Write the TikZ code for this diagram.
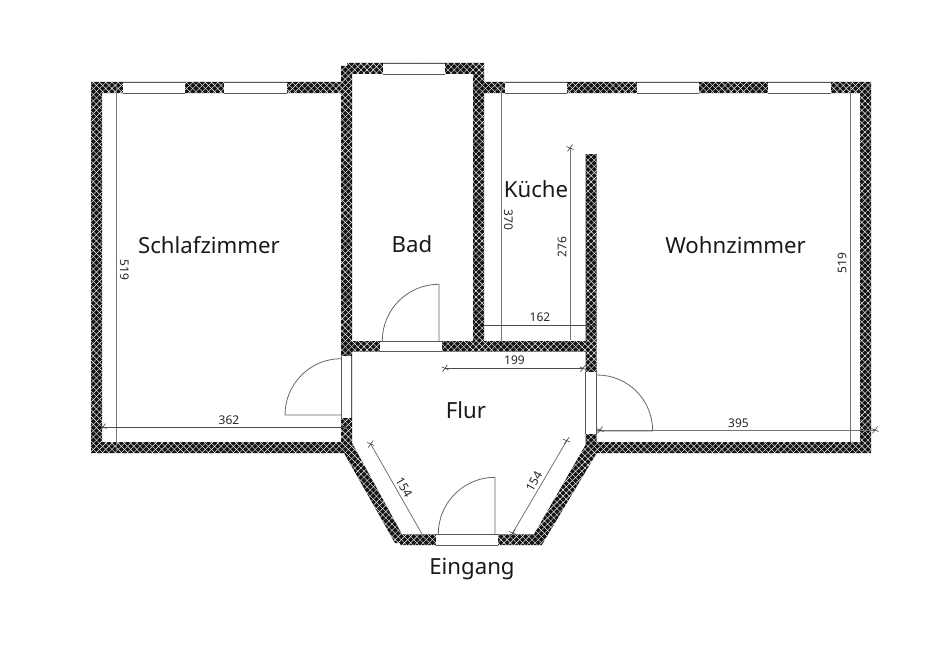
\documentclass[tikz,border=0pt]{standalone}
\usepackage{fontspec}
\setmainfont{Noto Sans}
\usetikzlibrary{patterns.meta}
\tikzset{
  wallfill/.style={fill=black!92,even odd rule},
  wallhatch/.style={even odd rule,pattern={Lines[angle=45,distance=4.4pt,line width=0.42pt]},pattern color=white},
  wallhatchb/.style={even odd rule,pattern={Lines[angle=-45,distance=4.4pt,line width=0.42pt]},pattern color=white},
  opening/.style={fill=white,draw=none},
  openline/.style={draw=black!65,line width=0.8pt},
  doorline/.style={draw=black!60,line width=0.8pt},
  dimline/.style={draw=black!55,line width=0.8pt},
  dimdark/.style={draw=black!70,line width=0.7pt},
  ticksty/.style={draw=black!75,line width=0.6pt},
  room/.style={font=\fontsize{22.2}{25}\selectfont,inner sep=0pt,text=black!90},
  dimlabel/.style={font=\fontsize{12}{14}\selectfont,inner sep=0pt,text=black!85}
}
\newcommand{\wallshape}[1]{%
  \fill[wallfill] #1;
  \fill[wallhatch] #1;
  \fill[wallhatchb] #1;
}
\newcommand{\dimtick}[2]{%
  \draw[ticksty] (#1-2.5,#2+3.5) -- (#1+2.5,#2-3.5);
  \draw[ticksty] (#1-3.5,#2-1.5) -- (#1+3.5,#2+1.5);
}
\begin{document}
\begin{tikzpicture}[x=1pt,y=-1pt]
\useasboundingbox (0,0) rectangle (948,661);
% walls
\wallshape{(91,82) -- (341,82) -- (341,66) -- (347,66) -- (347,63) -- (484,63) -- (484,82) -- (871,82) -- (871,453) -- (596.7,453) -- (541.7,545) -- (400,545) -- (400,543) -- (395,543) -- (344,453) -- (91,453) -- cycle
 (102,93) -- (102,442) -- (341,442) -- (341,93) -- cycle
 (352,74) -- (352,341) -- (473,341) -- (473,74) -- cycle
 (484,93) -- (484,341) -- (585.5,341) -- (585.5,154) -- (596.7,154) -- (596.7,442) -- (860,442) -- (860,93) -- cycle
 (352,351.5) -- (352,443) -- (402,534.3) -- (534,534.3) -- (585.5,445) -- (585.5,351.5) -- cycle}
% windows
\foreach \xa/\xb in {122.7/185,223.7/286.7,505/567,636.7/699,768/831}{
  \fill[opening] (\xa,82.6) rectangle (\xb,93);
  \draw[openline] (\xa,82.6) -- (\xb,82.6) (\xa,93) -- (\xb,93);
}
\fill[opening] (383,63.5) rectangle (445,74);
\draw[openline] (383,63.5) -- (445,63.5) (383,74) -- (445,74);
% door openings (horizontal)
\foreach \xa/\xb/\ya/\yb in {379.7/442.3/341/351.3,435.7/498/534.3/545}{
  \fill[opening] (\xa,\ya) rectangle (\xb,\yb);
  \draw[openline] (\xa,\ya) -- (\xb,\ya) (\xa,\yb) -- (\xb,\yb);
}
% door openings (vertical)
\foreach \xa/\xb/\ya/\yb in {341/351.7/355.7/418,585.6/596.5/372/434}{
  \fill[opening] (\xa,\ya) rectangle (\xb,\yb);
  \draw[openline] (\xa,\ya) -- (\xa,\yb) (\xb,\ya) -- (\xb,\yb);
}
% door leaves
\draw[doorline] (439,341) -- (439,284.3) .. controls (407.5,284.3) and (382.3,309.5) .. (382.3,341);
\draw[doorline] (495,534) -- (495,477.3) .. controls (463.7,477.3) and (438.3,502.7) .. (438.3,534);
\draw[doorline] (341,415) -- (285,415) .. controls (285,384) and (310,358.7) .. (341,358.7);
\draw[doorline] (597,431) -- (652.7,431) .. controls (652.7,400) and (628,375) .. (597,375);
% dimension lines
\draw[dimline] (116,84) -- (116,453);
\draw[dimline] (850,84) -- (850,442);
\draw[dimline] (501.7,84) -- (501.7,341);
\draw[dimline] (570,148) -- (570,340);
\draw[dimdark] (103,427) -- (345,427);
\draw[dimline] (597,430) -- (875,430);
\draw[dimdark] (484,325.3) -- (597,325.3);
\draw[dimdark] (445,368.3) -- (583,368.3);
\draw[dimline] (370.7,444) -- (422,534);
\draw[dimline] (566.7,440.7) -- (512.7,533);
% ticks
\dimtick{103}{427}\dimtick{345}{427}
\dimtick{875}{430}\dimtick{600}{430}
\dimtick{570}{148}
\dimtick{445}{368.3}\dimtick{583}{368.3}
\dimtick{370.7}{444}\dimtick{566.7}{440.7}\dimtick{512.7}{533}
% labels
\node[room] (schlaf) at (209,245.5) {Schlafzimmer};
\node[room] (bad) at (412,244) {Bad};
\node[room] (kueche) at (536,189.5) {Küche};
\node[room] (wohn) at (735.5,245) {Wohnzimmer};
\node[room] (flur) at (466,410) {Flur};
\node[room] (eingang) at (472,568.5) {Eingang};
\node[dimlabel,rotate=-90] (d519a) at (124.5,270) {519};
\node[dimlabel,rotate=90] (d519b) at (842,263) {519};
\node[dimlabel,rotate=-90] (d370) at (508.5,220) {370};
\node[dimlabel,rotate=90] (d276) at (562,247) {276};
\node[dimlabel] (d162) at (540,317.5) {162};
\node[dimlabel] (d199) at (514.5,360.5) {199};
\node[dimlabel] (d362) at (229,420) {362};
\node[dimlabel] (d395) at (738.5,423) {395};
\node[dimlabel,rotate=-60] (d154a) at (404,487) {154};
\node[dimlabel,rotate=60] (d154b) at (534,481) {154};
\end{tikzpicture}
\end{document}
